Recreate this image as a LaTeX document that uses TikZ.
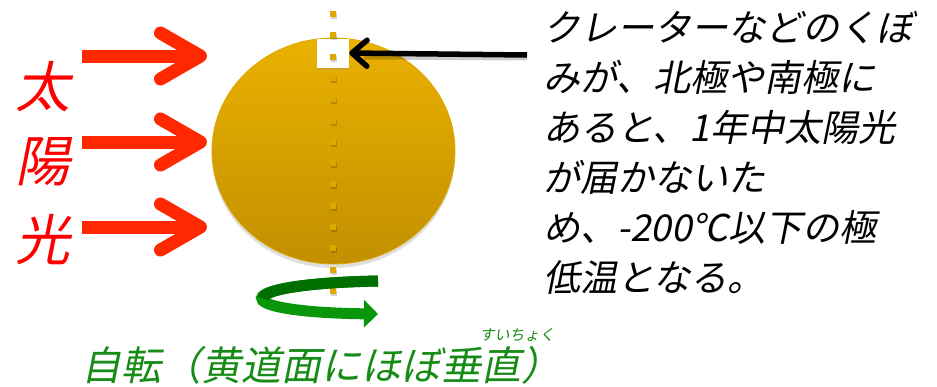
\documentclass[tikz,border=0pt]{standalone}
\usepackage{fontspec}
\usepackage{xcolor}
\newfontfamily\jpfont[FakeSlant=0.2]{Noto Sans CJK JP}
\usetikzlibrary{arrows.meta,shapes.geometric,shadows}

\definecolor{sunred}{RGB}{255,40,0}
\definecolor{textred}{RGB}{255,0,0}
\definecolor{goldtop}{RGB}{234,177,0}
\definecolor{goldbot}{RGB}{194,143,0}
\definecolor{axisgold}{RGB}{220,168,0}
\definecolor{spindark}{RGB}{0,110,0}
\definecolor{spinlight}{RGB}{10,150,10}
\definecolor{labelgreen}{RGB}{22,140,22}

\begin{document}
\begin{tikzpicture}[x=1pt,y=-1pt,
    sunray/.style={draw=sunred, line width=13pt, -{Straight Barb[length=40pt,width=46pt,round]}},
    pointer/.style={draw=black, line width=5.5pt, -{Straight Barb[length=15pt,width=26pt,round]}},
    moon/.style={ellipse, draw=axisgold, line width=0.8pt, top color=goldtop, bottom color=goldbot,
                 drop shadow={opacity=0.25, shadow xshift=0pt, shadow yshift=-4pt}},
    spin/.style={line width=11pt}]
\useasboundingbox (0,0) rectangle (937,386);

% the moon and the crater at its pole
\node[moon, minimum width=243pt, minimum height=226pt, inner sep=0] (moon) at (333.5,151) {};
\node[fill=white, minimum width=32pt, minimum height=29pt, inner sep=0,
      drop shadow={opacity=0.2, shadow xshift=0pt, shadow yshift=-2pt}] (crater) at (333,53) {};

% rotation axis
\coordinate (axtop) at (333,11);
\coordinate (axbot) at (333,296);
\foreach \k in {0,...,13}{
  \fill[black, opacity=0.18] (330.5,13+21.3*\k) rectangle ++(6,6);
  \fill[axisgold] (330,11+21.3*\k) rectangle ++(6,6);
}

% sunlight
\foreach \y [count=\i] in {56,142,227}{
  \coordinate (ray\i a) at (82,\y);
  \coordinate (ray\i b) at (207,\y);
  \draw[sunray] (ray\i a) -- (ray\i b);
}
\node[text=textred, font=\jpfont\fontsize{55}{55}\selectfont, inner sep=0] (tai) at (43,87) {太};
\node[text=textred, font=\jpfont\fontsize{55}{55}\selectfont, inner sep=0] (you) at (43,162) {陽};
\node[text=textred, font=\jpfont\fontsize{55}{55}\selectfont, inner sep=0] (kou) at (43,240) {光};

% note about the crater
\coordinate (notestart) at (527,55);
\draw[black, opacity=0.2, line width=5pt] (527,58) -- (364,57);
\draw[pointer] (notestart) -- (crater.east);
\node[anchor=north west, align=left, inner sep=0, font=\jpfont\fontsize{37}{50}\selectfont] (note) at (543,11)
  {クレーターなどのくぼ\\みが、北極や南極に\\あると、1年中太陽光\\が届かないた\\め、-200℃以下の極\\低温となる。};

% rotation
\coordinate (spinstart) at (378,281);
\coordinate (spinend) at (378,314);
\draw[spin, spinlight, -{Triangle[length=14pt,width=27pt]}] (spinstart) .. controls (225,284) and (225,312) .. (spinend);
\draw[spin, spindark] (spinstart) .. controls (301.5,282.5) and (263.25,290.25) .. (263.25,298.5);
\node[text=labelgreen, font=\jpfont\fontsize{40}{40}\selectfont, inner sep=0] (spinlabel) at (321,365) {自転（黄道面にほぼ垂直）};
\node[text=labelgreen, font=\jpfont\fontsize{15}{15}\selectfont, inner sep=0] (ruby) at (517,335) {すいちょく};
\end{tikzpicture}
\end{document}
